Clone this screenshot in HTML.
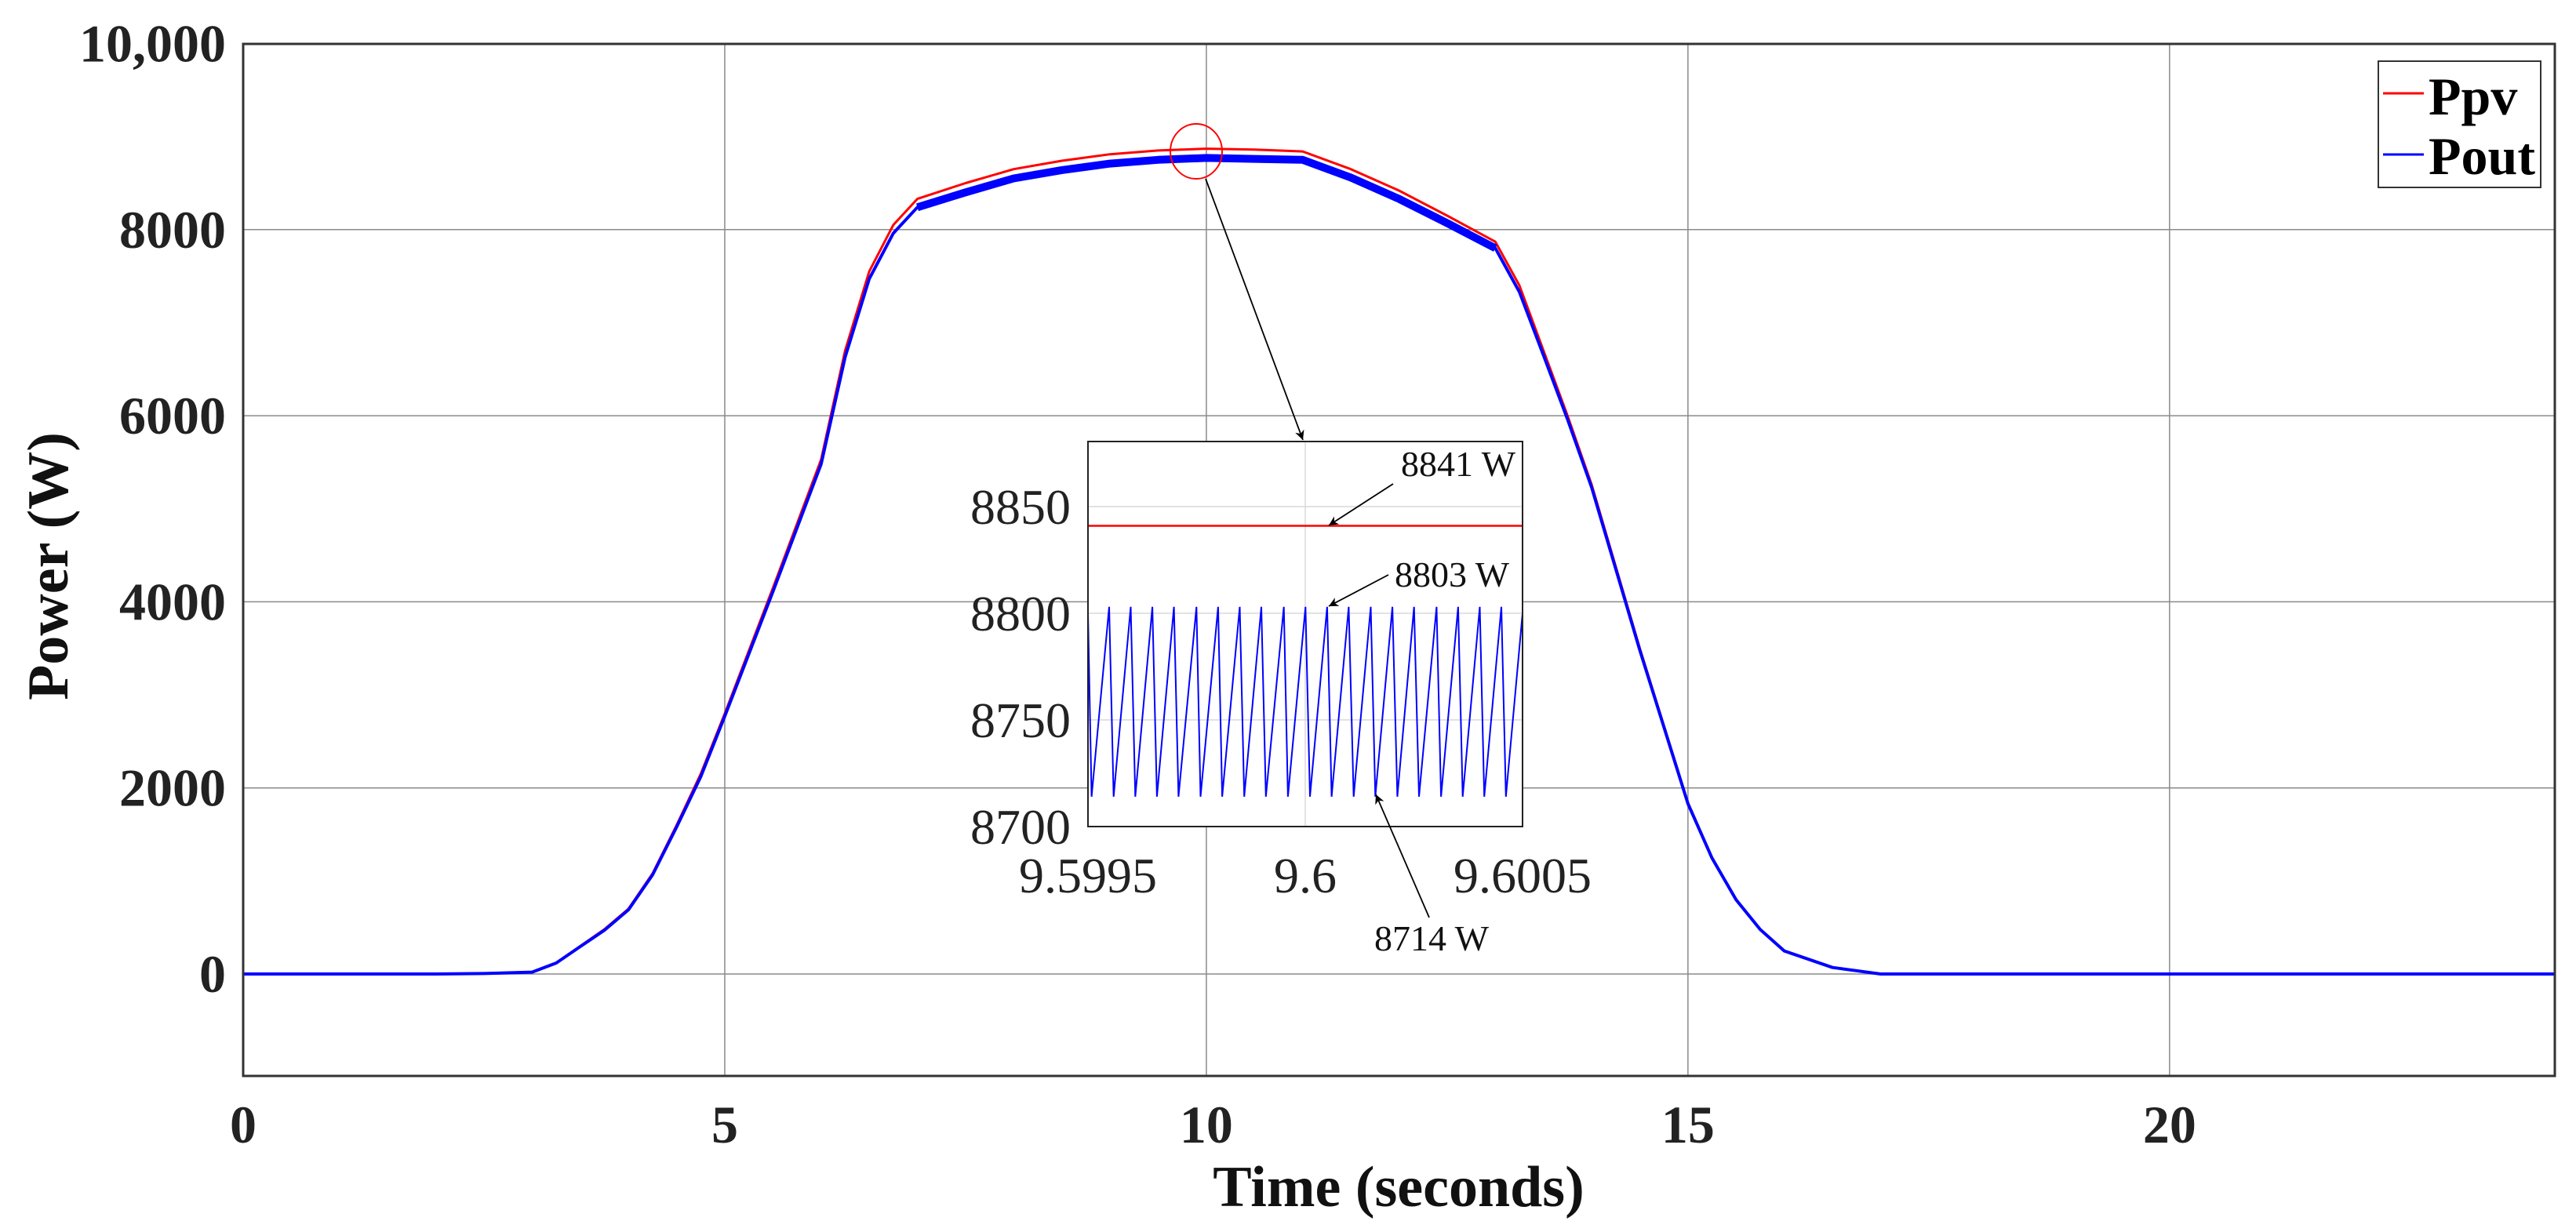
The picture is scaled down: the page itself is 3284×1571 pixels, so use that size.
<!DOCTYPE html>
<html><head><meta charset="utf-8"><style>
html,body{margin:0;padding:0;background:#fff;}
svg{display:block;font-family:"Liberation Serif",serif;}
</style></head><body>
<svg id="chart" width="3284" height="1571" viewBox="0 0 3284 1571" xmlns="http://www.w3.org/2000/svg">
<rect width="3284" height="1571" fill="#fff"/>
<g id="grid"></g>
<g id="series"></g>
<g id="axes"></g>
<g id="inset"></g>
<g id="annot"></g>
</svg>
<script>
// main chart data
const timeS = [0,1,2,2.5,3,3.25,3.5,3.75,4,4.25,4.5,4.75,5,5.5,6,6.25,6.5,6.75,7,7.5,8,8.5,9,9.5,10,10.5,11,11.5,12,12.5,13,13.25,13.5,13.75,14,14.5,15,15.25,15.5,15.75,16,16.5,17,18,19,20,21,22,23,24];
const ppv  = [0,0,0,5,20,120,300,480,700,1080,1600,2150,2800,4150,5530,6700,7550,8050,8330,8500,8650,8740,8810,8850,8870,8860,8840,8650,8420,8150,7870,7400,6700,6000,5260,3500,1840,1250,800,480,250,70,0,0,0,0,0,0,0,0];
const pout = [0,0,0,5,20,118,295,470,690,1065,1580,2120,2770,4110,5480,6630,7470,7960,8240,8400,8550,8640,8710,8750,8770,8760,8750,8560,8330,8070,7800,7330,6650,5960,5230,3480,1830,1245,797,478,248,70,0,0,0,0,0,0,0,0];
const xTicks = [0,5,10,15,20];
const yTicks = [0,2000,4000,6000,8000,10000];
const yTickLabels = ["0","2000","4000","6000","8000","10,000"];
// inset data (time offset in microseconds from 9.5995 s)
const sawT = [0,8.3,48.7,59.1,98.4,108.8,148.2,158.6,197.9,208.3,249.7,259.1,299.5,308.8,349.2,359.6,399.0,409.3,450.8,460.1,500.5,510.9,550.3,560.6,600.0,611.4,650.8,661.2,700.6,711.9,750.3,761.7,802.1,812.5,851.8,862.2,901.6,912.0,951.3,961.7,1000];
const sawP = [8800,8714,8803,8714,8803,8714,8803,8714,8803,8714,8803,8714,8803,8714,8803,8714,8803,8714,8803,8714,8803,8714,8803,8714,8803,8714,8803,8714,8803,8714,8803,8714,8803,8714,8803,8714,8803,8714,8803,8714,8800];
const redT = [0,1000];
const redP = [8841,8841];
const insetYTicks = [8700,8750,8800,8850];
const insetXTicks = [0,500,1000];
const insetXLabels = ["9.5995","9.6","9.6005"];

const NS="http://www.w3.org/2000/svg";
const L=310,R=3257,T=56,B=1372;
const xMin=0,xMax=24;
const xs=v=>L+(v-xMin)/(xMax-xMin)*(R-L);
const ys=v=>1242-v*0.11865;
const IL=1387,IR=1941,IT=563,IB=1054;
const ixs=v=>IL+v/1000*(IR-IL);
const iys=v=>IB-(v-8700)*(1054-782)/100;
function mk(tag,attrs,parent){const e=document.createElementNS(NS,tag);for(const k in attrs)e.setAttribute(k,attrs[k]);parent.appendChild(e);return e;}
const grid=document.getElementById('grid'),series=document.getElementById('series'),axes=document.getElementById('axes'),inset=document.getElementById('inset'),annot=document.getElementById('annot');

xTicks.forEach(v=>{
  if(v>xMin){const g=mk('line',{x1:xs(v),x2:xs(v),y1:T,y2:B,stroke:'#8a8a8a','stroke-width':1.5},grid);
  
  }
  const t=mk('text',{x:xs(v),y:1457,'font-size':68,'font-weight':'bold','text-anchor':'middle',fill:'#222'},axes);t.textContent=v;
  
  
});
yTicks.forEach((v,i)=>{
  const g=mk('line',{x1:L,x2:R,y1:ys(v),y2:ys(v),stroke:'#8a8a8a','stroke-width':1.5},grid);
  
  
  const t=mk('text',{x:288,y:ys(v)+23,'font-size':68,'font-weight':'bold','text-anchor':'end',fill:'#222'},axes);t.textContent=yTickLabels[i];
  
  
});
const pts=(X,Y,fx,fy)=>X.map((x,i)=>fx(x).toFixed(1)+','+fy(Y[i]).toFixed(1)).join(' ');
const red=mk('polyline',{points:pts(timeS,ppv,xs,ys),fill:'none',stroke:'#ff0000','stroke-width':3,'stroke-linejoin':'round'},series);


const blue=mk('polyline',{points:pts(timeS,pout,xs,ys),fill:'none',stroke:'#0000ff','stroke-width':4,'stroke-linejoin':'round'},series);


const bandIdx=timeS.map((t,i)=>i).filter(i=>timeS[i]>=7&&timeS[i]<=13);
const band=mk('polyline',{points:bandIdx.map(i=>xs(timeS[i]).toFixed(1)+','+ys(pout[i]).toFixed(1)).join(' '),fill:'none',stroke:'#0000ff','stroke-width':10,'stroke-linejoin':'round'},series);



const frame=mk('rect',{x:L,y:T,width:R-L,height:B-T,fill:'none',stroke:'#333','stroke-width':3},axes);


const xt=mk('text',{x:1783,y:1538,'font-size':74,'font-weight':'bold','text-anchor':'middle',fill:'#111'},axes);xt.textContent='Time (seconds)';


const yt=mk('text',{x:0,y:0,'font-size':74,'font-weight':'bold','text-anchor':'middle',fill:'#111',transform:'translate(86,722) rotate(-90)'},axes);yt.textContent='Power (W)';



// legend
const lg=mk('g',{},axes);


mk('rect',{x:3032,y:78,width:207,height:161,fill:'#fff',stroke:'#333','stroke-width':2},lg);
mk('line',{x1:3038,x2:3090,y1:119,y2:119,stroke:'#ff0000','stroke-width':3},lg);
mk('line',{x1:3038,x2:3090,y1:197,y2:197,stroke:'#0000ff','stroke-width':3},lg);
const l1=mk('text',{x:3096,y:146,'font-size':68,'font-weight':'bold',fill:'#000'},lg);l1.textContent='Ppv';


const l2=mk('text',{x:3096,y:222,'font-size':68,'font-weight':'bold',fill:'#000'},lg);l2.textContent='Pout';



// inset
const ibg=mk('rect',{x:IL,y:IT,width:IR-IL,height:IB-IT,fill:'#fff'},inset);


insetYTicks.forEach(v=>{
  if(v>8700){const g=mk('line',{x1:IL,x2:IR,y1:iys(v),y2:iys(v),stroke:'#d8d8d8','stroke-width':1.5},inset);
  
  }
  const t=mk('text',{x:1365,y:iys(v)+22,'font-size':64,'text-anchor':'end',fill:'#222'},inset);t.textContent=v;
  
  
});
insetXTicks.forEach((v,i)=>{
  if(v>0&&v<1000){const g=mk('line',{x1:ixs(v),x2:ixs(v),y1:IT,y2:IB,stroke:'#d8d8d8','stroke-width':1.5},inset);
  
  }
  const t=mk('text',{x:ixs(v),y:1138,'font-size':64,'text-anchor':'middle',fill:'#222'},inset);t.textContent=insetXLabels[i];
  
  
});
const ir=mk('polyline',{points:pts(redT,redP,ixs,iys),fill:'none',stroke:'#ff0000','stroke-width':2.5},inset);


const ib=mk('polyline',{points:pts(sawT,sawP,ixs,iys),fill:'none',stroke:'#0000ff','stroke-width':2},inset);


const ifr=mk('rect',{x:IL,y:IT,width:IR-IL,height:IB-IT,fill:'none',stroke:'#222','stroke-width':2},inset);



// annotations
const defs=mk('defs',{},annot);
const mrk=mk('marker',{id:'ah',viewBox:'0 0 10 10',refX:10,refY:5,markerWidth:12,markerHeight:12,markerUnits:'userSpaceOnUse',orient:'auto'},defs);
mk('path',{d:'M0,0 L10,5 L0,10 L3,5 Z',fill:'#000'},mrk);
function arrow(x1,y1,x2,y2,name){const a=mk('line',{x1,y1,x2,y2,stroke:'#000','stroke-width':1.8,'marker-end':'url(#ah)'},annot);

}
const circ=mk('ellipse',{cx:1525,cy:193,rx:33,ry:35,fill:'none',stroke:'#ff0000','stroke-width':2},annot);


arrow(1537,228,1661,561,'zoom-arrow');
arrow(1776,617,1694,670,'ppv-value-arrow');
arrow(1770,733,1694,773,'pout-max-arrow');
arrow(1822,1170,1754,1013,'pout-min-arrow');
[['8841 W',1786,607,'ppv-value-label'],['8803 W',1778,748,'pout-max-label'],['8714 W',1752,1212,'pout-min-label']].forEach(d=>{
  const t=mk('text',{x:d[1],y:d[2],'font-size':46,fill:'#111'},annot);t.textContent=d[0];
  
  
});
</script>
</body></html>
